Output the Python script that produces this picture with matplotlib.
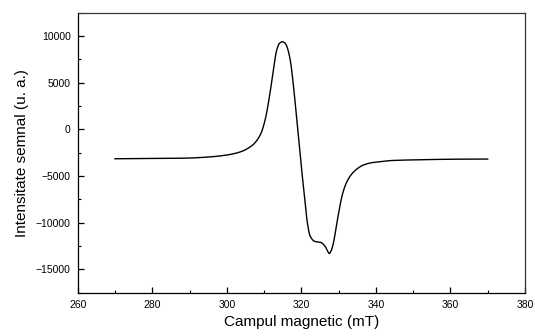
import numpy as np
import matplotlib
matplotlib.use("Agg")
import matplotlib.pyplot as plt
from matplotlib.ticker import MultipleLocator

# values
field = [270, 281.2, 289.3, 295.5, 300, 302.5, 304.5, 306.0, 307.3, 308.3, 309.2, 310.3,
         311.6, 312.5, 313.4, 314.2, 314.9, 315.6, 316.1, 317.0, 317.9, 318.8,
         319.7, 320.6, 321.5, 322.4, 323.7, 325.1, 326.4, 327.0, 327.5, 328.0,
         328.6, 329.3, 330.0, 331.0, 332.0, 333.2, 334.9, 336.5, 338.5, 340.3, 344.7,
         352.8, 360, 370]
signal = [-3150, -3120, -3080, -2950, -2750, -2550, -2280, -1950, -1550, -1050, -400, 1040,
          3900, 6400, 8500, 9250, 9380, 9250, 8900, 7480, 4610, 900,
          -2800, -6300, -9700, -11480, -12020, -12090, -12550, -13000, -13300, -13000,
          -12190, -10600, -8970, -7000, -5800, -4950, -4250, -3850, -3600, -3500, -3330,
          -3250, -3200, -3180]


def pchip(x, y, xs):
    # monotone cubic interpolation (Fritsch-Carlson)
    h = np.diff(x)
    d = np.diff(y) / h
    m = np.zeros_like(y)
    for k in range(1, len(x) - 1):
        if d[k - 1] * d[k] > 0:
            w1 = 2 * h[k] + h[k - 1]
            w2 = h[k] + 2 * h[k - 1]
            m[k] = (w1 + w2) / (w1 / d[k - 1] + w2 / d[k])
    m[0] = d[0]
    m[-1] = d[-1]
    i = np.clip(np.searchsorted(x, xs) - 1, 0, len(x) - 2)
    t = (xs - x[i]) / h[i]
    h00 = 2 * t**3 - 3 * t**2 + 1
    h10 = t**3 - 2 * t**2 + t
    h01 = -2 * t**3 + 3 * t**2
    h11 = t**3 - t**2
    return h00 * y[i] + h10 * h[i] * m[i] + h01 * y[i + 1] + h11 * h[i] * m[i + 1]


plt.rcParams['font.family'] = ['Liberation Sans', 'DejaVu Sans']

fig = plt.figure(figsize=(5.35, 3.36), dpi=100)
ax = fig.add_axes([0.1452, 0.1289, 0.8361, 0.8333])

x = np.array(field, dtype=float)
y = np.array(signal, dtype=float)
xs = np.linspace(x[0], x[-1], 3000)
ax.plot(xs, pchip(x, y, xs), color='black', lw=1.0)

ax.set_xlim(260, 380)
ax.set_ylim(-17500, 12500)
ax.xaxis.set_major_locator(MultipleLocator(20))
ax.xaxis.set_minor_locator(MultipleLocator(10))
ax.yaxis.set_major_locator(MultipleLocator(5000))
ax.yaxis.set_minor_locator(MultipleLocator(2500))
ax.tick_params(which='both', direction='in', top=False, right=False, labelsize=7.5, pad=5)
ax.tick_params(which='major', length=4, width=0.9)
ax.tick_params(which='minor', length=2.5, width=0.8)
for s in ax.spines.values():
    s.set_linewidth(0.9)
    s.set_color('#333333')
ax.spines['left'].set_color('black')
ax.spines['bottom'].set_color('black')

ax.set_xlabel('Campul magnetic (mT)', fontsize=11, labelpad=4)
ax.set_ylabel('Intensitate semnal (u. a.)', fontsize=11, labelpad=5)

fig.savefig('out.png', dpi=100)
